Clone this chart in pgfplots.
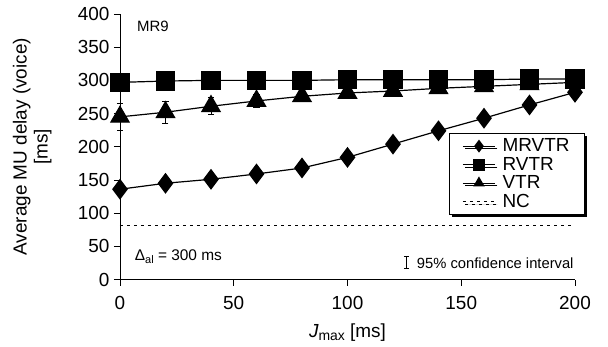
\documentclass[border=0pt]{standalone}
\usepackage{fontspec}
\setmainfont{Liberation Sans}
\usepackage{pgfplots}
\pgfplotsset{compat=1.18}
\usetikzlibrary{shadows}

\pgfplotstableread{
x   mr    r     v    ve
0   136   297   245  21
20  145   299   252  17
40  151   300   261  13
60  159   300   269  10
80  168   300   276  8
100 184   301   281  7
120 204   301   284  6
140 224   301   288  5
160 243   301   291  5
180 263   302   294  4
200 282   302   297  4
}\datatable

\begin{document}
\begin{tikzpicture}
\begin{axis}[
  width=455bp, height=265.5bp, scale only axis,
  xmin=0, xmax=200, ymin=0, ymax=400,
  axis x line*=bottom, axis y line*=left,
  axis line style={-, line width=0.8bp, black},
  xtick={0,50,...,200}, ytick={0,50,...,400},
  tick align=outside, major tick length=6bp,
  tick style={line width=0.8bp, black},
  /pgf/number format/assume math mode=true,
  ticklabel style={font=\fontsize{19}{22}\selectfont},
  xticklabel style={yshift=-7bp},
  yticklabel style={xshift=-1bp},
  clip=false,
  xlabel={{\itshape J}\raisebox{-0.35ex}{\fontsize{14}{14}\selectfont max} [ms]},
  xlabel style={font=\fontsize{19}{22}\selectfont, at={(axis description cs:0.5,-0.2)}, anchor=center},
  ylabel={Average MU delay (voice)\\{[ms]}},
  ylabel style={font=\fontsize{19}{21}\selectfont, align=center, at={(axis description cs:-0.193,0.5)}, anchor=center},
  legend cell align=left,
  legend style={at={(axis description cs:0.723,0.55)}, anchor=north west,
    draw=black, line width=0.8bp, fill=white,
    font=\fontsize{19}{22.5}\selectfont, row sep=0bp, column sep=5bp, inner xsep=13bp, inner ysep=3bp,
    drop shadow={shadow xshift=2.5bp, shadow yshift=-2.5bp, opacity=1, fill=black}},
  legend image code/.code={\draw[mark repeat=2,mark phase=2] plot coordinates {(0bp,0bp)(16bp,0bp)(32bp,0bp)};},
  legend image post style={mark size=5.5bp},
]
\addplot[black, line width=1.2bp, mark=diamond*, mark size=9.5bp] table[x=x, y=mr] {\datatable};
\addlegendentry{MRVTR}
\addplot[black, line width=1.2bp, mark=square*, mark size=9bp] table[x=x, y=r] {\datatable};
\addlegendentry{RVTR}
\addplot[black, line width=1.2bp, mark=triangle*, mark size=10.5bp,
  error bars/.cd, y dir=both, y explicit, error bar style={line width=0.8bp, black}, error mark options={rotate=90, mark size=3bp, line width=0.8bp}]
  table[x=x, y=v, y error=ve] {\datatable};
\addlegendentry{VTR}
\addplot[black, line width=0.9bp, dash pattern=on 3bp off 4bp] coordinates {(0,81) (200,81)};
\addlegendentry{NC}

\node[anchor=west, font=\fontsize{15}{17}\selectfont] at (axis cs:6,381) {MR9};
\node[anchor=west, font=\fontsize{15.5}{17}\selectfont] at (axis cs:5,34) {Δ\raisebox{-0.35ex}{\fontsize{11}{11}\selectfont al} = 300 ms};
\draw[line width=0.7bp] (axis cs:126,17) -- (axis cs:126,35)
  (axis cs:124.8,17) -- (axis cs:127.2,17) (axis cs:124.8,35) -- (axis cs:127.2,35);
\node[anchor=west, font=\fontsize{14.8}{17}\selectfont] at (axis cs:129,25) {95\% confidence interval};
\end{axis}
\path (-120bp,-67.5bp) rectangle (488bp,279.5bp);
\end{tikzpicture}
\end{document}
